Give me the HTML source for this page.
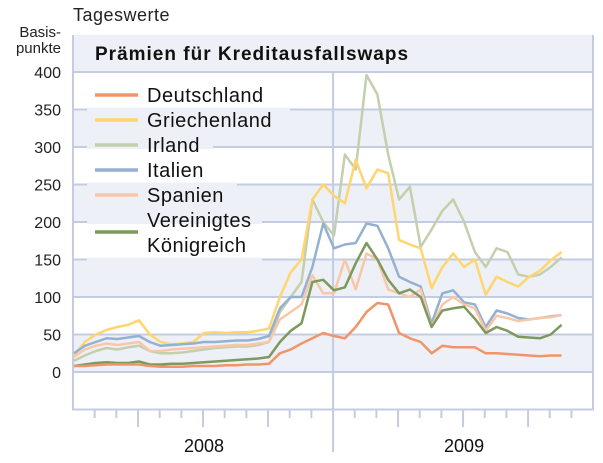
<!DOCTYPE html>
<html><head><meta charset="utf-8"><style>
body{margin:0;background:#fff}
svg{display:block;font-family:"Liberation Sans",sans-serif}
</style></head><body>
<svg id="c" width="603" height="463"></svg>
<script>
const months=[0,0.5,1,1.5,2,2.5,3,3.5,4,4.5,5,5.5,6,6.5,7,7.5,8,8.5,9,9.5,10,10.5,11,11.5,12,12.5,13,13.5,14,14.5,15,15.5,16,16.5,17,17.5,18,18.5,19,19.5,20,20.5,21,21.5,22,22.5];
const deutschland=[8,8,9,10,10,10,10,8,7,7,7,8,8,8,9,9,10,10,11,25,30,38,45,52,48,45,60,80,92,90,52,45,40,25,35,33,33,33,25,25,24,23,22,21,22,22];
const griechenland=[22,40,50,56,60,63,69,50,40,37,38,40,52,53,52,53,53,55,58,100,133,150,230,250,235,225,283,245,270,265,176,170,165,112,140,158,140,150,103,127,120,114,127,135,149,160];
const irland=[15,22,28,32,30,33,35,28,25,25,26,28,30,32,33,34,34,36,40,80,100,120,230,200,182,290,270,396,370,290,230,247,167,190,215,230,200,160,140,165,160,130,127,130,140,153];
const italien=[25,35,40,45,44,46,48,40,35,36,37,38,40,40,41,42,42,44,48,85,100,100,140,198,165,170,172,198,195,165,127,120,114,65,105,109,93,90,60,82,78,72,70,72,74,76];
const spanien=[20,30,35,38,36,38,40,28,28,30,31,32,33,34,35,36,36,38,40,70,80,90,129,105,105,150,110,158,150,110,105,100,110,60,90,100,90,85,55,75,72,68,70,72,73,76];
const uk=[8,10,12,13,12,12,14,10,10,11,11,12,13,14,15,16,17,18,20,40,55,65,120,123,109,113,145,172,150,123,105,110,100,60,82,85,87,71,52,60,55,47,46,45,50,63];
const yTicks=[400,350,300,250,200,150,100,50,0];
const seriesNames=["Deutschland","Griechenland","Irland","Italien","Spanien","Vereinigtes Königreich"];
const colors=["#f0956a","#ffd66e","#c3cfad","#94b1d2","#f9c7a8","#7d9a5c"];
const slugs=["deutschland","griechenland","irland","italien","spanien","vereinigtes-koenigreich"];
const allSeries=[deutschland,griechenland,irland,italien,spanien,uk];
const NS="http://www.w3.org/2000/svg";
const svg=document.getElementById('c');
const L=73,R=593,TOP=35,BOT=409.5;
const y=v=>372-v*0.75;
const x=t=>L+1+t*21.67;
function mk(tag,attrs,parent){const e=document.createElementNS(NS,tag);for(const k in attrs)e.setAttribute(k,attrs[k]);(parent||svg).appendChild(e);return e;}
const grid="#c3cce3",band="#eef0f7";
let e=mk('rect',{x:L,y:TOP,width:R-L,height:y(400)-TOP,fill:band});


[[0,50],[100,150],[200,250],[300,350]].forEach(b=>{const r=mk('rect',{x:L,y:y(b[1]),width:R-L,height:y(b[0])-y(b[1]),fill:band});

});
for(let v=-50;v<=400;v+=50){const l=mk('line',{x1:L,x2:R,y1:y(v),y2:y(v),stroke:grid,'stroke-width':2});

}
// legend backgrounds interrupting gridlines
[[350,290],[300,213],[250,237],[200,262],[150,262]].forEach(g=>{const r=mk('rect',{x:87,y:y(g[0])-2,width:g[1]-87,height:4,fill:band});

});
e=mk('path',{d:`M${L},${TOP}V${BOT}H${R}V${TOP}`,fill:'none',stroke:grid,'stroke-width':2});


e=mk('line',{x1:x(12)-1,x2:x(12)-1,y1:y(400),y2:452,stroke:grid,'stroke-width':2});


for(let m=1;m<=23;m++){if(m===12)continue;const tx=x(m)-1;const l=mk('line',{x1:tx,x2:tx,y1:BOT,y2:m%3===0?427:418,stroke:grid,'stroke-width':2});

}
yTicks.forEach(v=>{const t=mk('text',{x:61,y:y(v)+6,'text-anchor':'end','font-size':16,fill:'#222'});t.textContent=v;

});
e=mk('text',{x:61,y:37,'text-anchor':'end','font-size':15,fill:'#222'});e.textContent='Basis-';


e=mk('text',{x:61,y:53,'text-anchor':'end','font-size':15,fill:'#222'});e.textContent='punkte';


e=mk('text',{x:73,y:21,'font-size':18,'letter-spacing':0.5,fill:'#222'});e.textContent='Tageswerte';


e=mk('text',{x:95,y:60,'font-size':19,'letter-spacing':1,'font-weight':'bold',fill:'#111'});e.textContent='Prämien für Kreditausfallswaps';


e=mk('text',{x:x(6),y:452,'text-anchor':'middle','font-size':18,fill:'#111'});e.textContent='2008';


e=mk('text',{x:x(18),y:452,'text-anchor':'middle','font-size':18,fill:'#111'});e.textContent='2009';


const order=[2,1,3,4,5,0];
order.forEach(i=>{const d=allSeries[i].map((v,k)=>(k?'L':'M')+x(months[k]).toFixed(1)+','+y(v).toFixed(1)).join('');
const p=mk('path',{d:d,fill:'none',stroke:colors[i],'stroke-width':2.5,'stroke-linejoin':'round'});

});
const ly=[95,120,145,170,195,220];
seriesNames.forEach((n,i)=>{
const l=mk('line',{x1:95,x2:138,y1:ly[i]+(i===5?12:0),y2:ly[i]+(i===5?12:0),stroke:colors[i],'stroke-width':3.5});


const lines=i===5?['Vereinigtes','Königreich']:[n];
lines.forEach((s,j)=>{const t=mk('text',{x:147,y:ly[i]+7+j*25,'font-size':20,'letter-spacing':0.5,fill:'#111'});t.textContent=s;

});
});
</script>
</body></html>
